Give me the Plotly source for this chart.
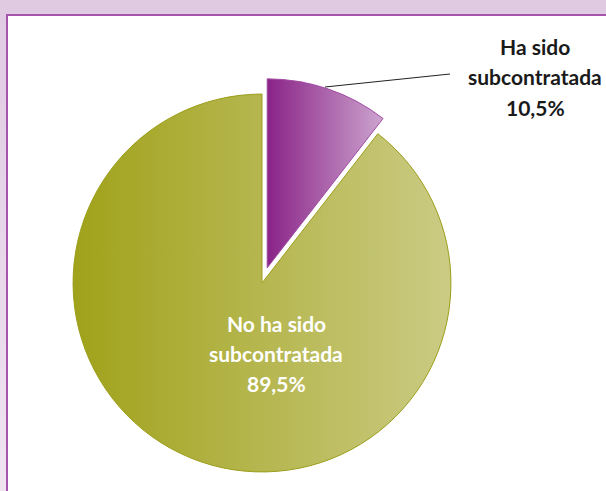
import plotly.graph_objects as go

# ---- data ----
labels = ["Ha sido subcontratada", "No ha sido subcontratada"]
values = [10.5, 89.5]
label_lines = [["Ha sido", "subcontratada", "10,5%"],
               ["No ha sido", "subcontratada", "89,5%"]]

W, H = 606, 491
FONT = "Lato"

def px(x):
    return x / W

def py(y):
    return 1 - y / H

fig = go.Figure()

cx, cy, half = 262, 283, 205
fig.add_trace(go.Pie(
    labels=labels,
    values=values,
    sort=False,
    direction="clockwise",
    rotation=0,
    pull=[0.085, 0],
    textinfo="none",
    hoverinfo="skip",
    showlegend=False,
    marker=dict(colors=["rgb(170,98,170)", "rgb(181,184,78)"],
                line=dict(color=["rgb(160,74,164)", "rgb(156,158,26)"], width=1)),
    domain=dict(x=[px(cx - half), px(cx + half)],
                y=[(H - cy - half) / H, (H - cy + half) / H]),
))

annotations = []
# outside label (purple slice)
for txt, base in zip(label_lines[0], [54, 84, 114]):
    annotations.append(dict(x=px(535), y=py(base - 7), xref="paper", yref="paper",
                            text="<b>%s</b>" % txt, showarrow=False,
                            xanchor="center", yanchor="middle",
                            font=dict(family=FONT, size=21, color="#1a1a1a")))
# inside label (olive slice)
for txt, base in zip(label_lines[1], [330, 360, 390]):
    annotations.append(dict(x=px(276), y=py(base - 7), xref="paper", yref="paper",
                            text="<b>%s</b>" % txt, showarrow=False,
                            xanchor="center", yanchor="middle",
                            font=dict(family=FONT, size=21, color="#ffffff")))

shapes = [
    dict(type="rect", xref="paper", yref="paper",
         x0=px(7), x1=px(W + 20), y0=py(H + 20), y1=py(15),
         fillcolor="white", line=dict(color="#a654ae", width=2), layer="below"),
    dict(type="line", xref="paper", yref="paper",
         x0=px(325), y0=py(87), x1=px(450), y1=py(74),
         line=dict(color="#222222", width=1)),
]

fig.update_layout(
    width=W, height=H,
    margin=dict(l=0, r=0, t=0, b=0),
    paper_bgcolor="#e4d2e6",
    plot_bgcolor="white",
    annotations=annotations,
    shapes=shapes,
)

post = """
document.body.style.margin = '0';
document.body.style.padding = '0';
var gd = document.getElementById('{plot_id}');
function apply(){
  var svg = gd.querySelector('svg.main-svg');
  svg.style.background = 'linear-gradient(#dfcae2, #f0e4f1)';
  var ns = 'http://www.w3.org/2000/svg';
  var defs = svg.querySelector('defs');
  if(!defs){ defs = document.createElementNS(ns,'defs'); svg.insertBefore(defs, svg.firstChild); }
  function grad(id, c0, c1){
    if(document.getElementById(id)) return;
    var g = document.createElementNS(ns,'linearGradient');
    g.setAttribute('id', id);
    g.setAttribute('x1','0'); g.setAttribute('y1','0');
    g.setAttribute('x2','1'); g.setAttribute('y2','0');
    var s0 = document.createElementNS(ns,'stop'); s0.setAttribute('offset','0'); s0.setAttribute('stop-color', c0);
    var s1 = document.createElementNS(ns,'stop'); s1.setAttribute('offset','1'); s1.setAttribute('stop-color', c1);
    g.appendChild(s0); g.appendChild(s1); defs.appendChild(g);
  }
  grad('gradPurple', '#8a2387', '#cca4ce');
  grad('gradOlive', '#a0a21a', '#cbcb84');
  gd.querySelectorAll('g.slice path.surface').forEach(function(p){
    var f = p.style.fill.replace(/\\s/g,'');
    if(f.indexOf('170,98,170') >= 0) p.style.fill = 'url(#gradPurple)';
    if(f.indexOf('181,184,78') >= 0) p.style.fill = 'url(#gradOlive)';
  });
}
apply();
"""

fig.write_html("out.html", post_script=post, config={"staticPlot": True})
